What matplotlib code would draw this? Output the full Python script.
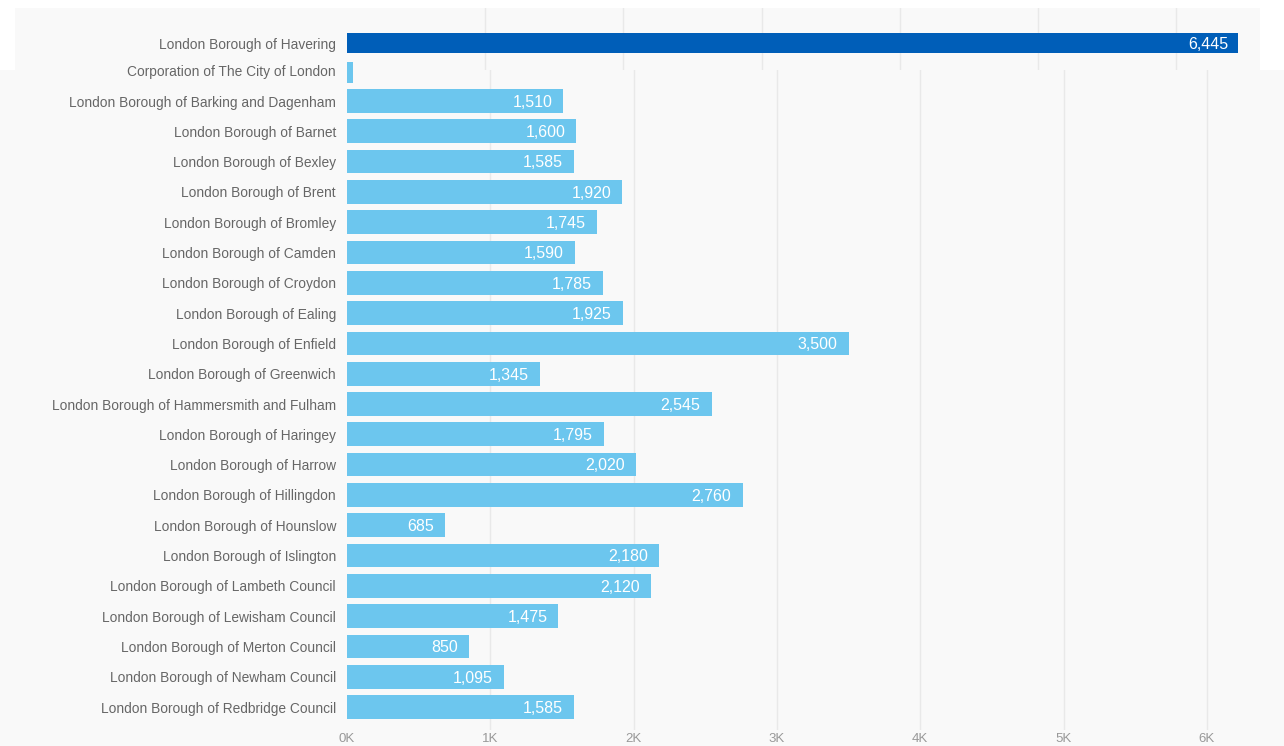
import matplotlib
matplotlib.use('Agg')
import matplotlib.pyplot as plt
from matplotlib.patches import Rectangle
from matplotlib.ticker import FixedLocator

categories = [
    'London Borough of Havering',
    'Corporation of The City of London',
    'London Borough of Barking and Dagenham',
    'London Borough of Barnet',
    'London Borough of Bexley',
    'London Borough of Brent',
    'London Borough of Bromley',
    'London Borough of Camden',
    'London Borough of Croydon',
    'London Borough of Ealing',
    'London Borough of Enfield',
    'London Borough of Greenwich',
    'London Borough of Hammersmith and Fulham',
    'London Borough of Haringey',
    'London Borough of Harrow',
    'London Borough of Hillingdon',
    'London Borough of Hounslow',
    'London Borough of Islington',
    'London Borough of Lambeth Council',
    'London Borough of Lewisham Council',
    'London Borough of Merton Council',
    'London Borough of Newham Council',
    'London Borough of Redbridge Council',
]
values = [6445, 45, 1510, 1600, 1585, 1920, 1745, 1590, 1785, 1925, 3500, 1345,
          2545, 1795, 2020, 2760, 685, 2180, 2120, 1475, 850, 1095, 1585]
tick_values = [0, 1000, 2000, 3000, 4000, 5000, 6000]
tick_labels = ['0K', '1K', '2K', '3K', '4K', '5K', '6K']

DARK = '#005eb8'
LIGHT = '#6cc6ee'
BG = '#f9f9f9'
GRID = '#e9e9e9'
LABEL = '#666666'
FONT = ['Liberation Sans', 'DejaVu Sans']

W, H = 1284, 746
fig = plt.figure(figsize=(W / 100, H / 100), dpi=100, facecolor=BG)


def rect(x0, y0, x1, y1):
    return [x0 / W, 1 - y1 / H, (x1 - x0) / W, (y1 - y0) / H]


# white top band with gray panel (upper screenshot region)
fig.patches.append(Rectangle((0, 1 - 70 / H), 1, 70 / H, transform=fig.transFigure,
                             facecolor='white', edgecolor='none', zorder=-3))
fig.patches.append(Rectangle((15 / W, 1 - 70 / H), (1260 - 15) / W, 62 / H,
                             transform=fig.transFigure, facecolor=BG,
                             edgecolor='none', zorder=-2))

# ---------- main axes (rows from City of London downwards) ----------
main_cats = categories[1:]
main_vals = values[1:]
row = 30.3
ax = fig.add_axes(rect(347, 70, 1284, 730))
ax.set_facecolor(BG)
ypos = list(range(len(main_cats)))
ax.barh(ypos, main_vals, height=0.78, color=LIGHT, zorder=2)
ax.set_xlim(0, (1284 - 347) / 143.3 * 1000)
ax.set_ylim((730 - 70.7) / row, (70 - 70.7) / row)
ax.set_yticks(ypos)
ax.set_yticklabels(main_cats, fontsize=9.9, color=LABEL, family=FONT)
ax.xaxis.set_major_locator(FixedLocator(tick_values))
ax.set_xticklabels(tick_labels, fontsize=9.5, color='#999999', family=FONT)
ax.tick_params(axis='both', length=0)
ax.tick_params(axis='y', pad=8)
ax.tick_params(axis='x', pad=2)
for s in ax.spines.values():
    s.set_visible(False)
for t in tick_values[1:]:
    ax.axvline(t, color=GRID, lw=1, zorder=1)
for y, v in zip(ypos, main_vals):
    if v >= 500:
        ax.annotate(f'{v:,}', (v, y), xytext=(-8, -1), textcoords='offset points',
                    ha='right', va='center', color='white', fontsize=11.5,
                    family=FONT, zorder=3)

# ---------- top axes (upper screenshot strip) ----------
top_cats = categories[:2]
top_vals = values[:2]
trow = 29.4
tax = fig.add_axes(rect(347, 8, 1260, 70), zorder=2)
tax.set_facecolor(BG)
tpos = [0, 1]
tax.barh(tpos, top_vals, height=0.68, color=[DARK, LIGHT], zorder=2)
tax.set_xlim(0, (1260 - 347) / 138.2 * 1000)
tax.set_ylim((70 - 43) / trow, -(43 - 8) / trow)
tax.set_yticks([0])
tax.set_yticklabels(top_cats[:1], fontsize=9.9, color=LABEL, family=FONT)
tax.set_xticks([])
tax.tick_params(axis='both', length=0)
tax.tick_params(axis='y', pad=8)
for s in tax.spines.values():
    s.set_visible(False)
for t in tick_values[1:]:
    tax.axvline(t, color=GRID, lw=1, zorder=1)
tax.annotate(f'{top_vals[0]:,}', (top_vals[0], 0), xytext=(-7, -1),
             textcoords='offset points', ha='right', va='center',
             color='white', fontsize=11.5, family=FONT, zorder=3)

fig.savefig('out.png', dpi=100, facecolor=fig.get_facecolor())
